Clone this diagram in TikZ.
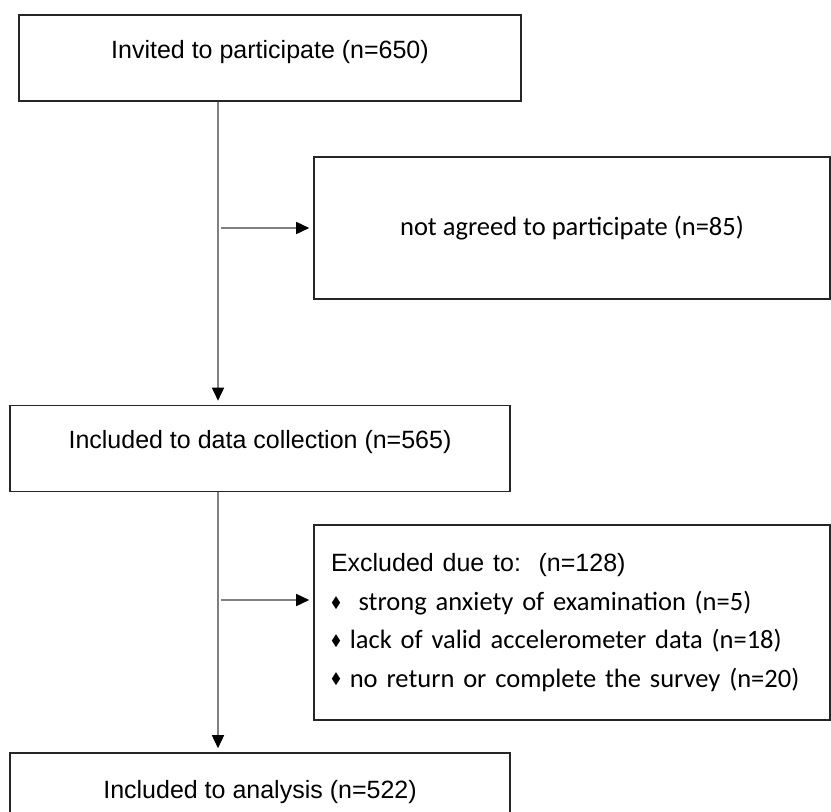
\documentclass[tikz,border=0pt]{standalone}
\usepackage{fontspec}
\setmainfont{Liberation Sans}
\newfontfamily\calibrifont{Carlito}
\usepackage{amssymb}
\usepackage{xcolor}
\colorlet{colBox}{black!85}
\colorlet{colFlow}{black!50}
\usetikzlibrary{arrows.meta, positioning, calc}
\newcommand{\exbullet}{\raisebox{0.12em}{\fontsize{15}{15}\selectfont$\blacklozenge$}}

\begin{document}
\begin{tikzpicture}[
		x=1pt, y=-1pt,
		every node/.style={font=\fontsize{25}{30}\selectfont},
		stagebox/.style={draw=colBox, line width=1.6pt, inner sep=0pt,
		      minimum height=86pt, minimum width=500pt,
		      text height=0.8em, text depth=0.8em},
		sidebox/.style={draw=colBox, line width=1.6pt, inner sep=0pt,
		      minimum width=516pt, font=\calibrifont\fontsize{26.5}{38.5}\selectfont},
		flow/.style={line width=1.6pt, colFlow, shorten >=4pt,
		      -{Triangle[length=13pt, width=12pt, color=black]}}
	]
		\useasboundingbox (0,0) rectangle (831,812);
		\clip (0,0) rectangle (831,812);
		\node[stagebox, minimum width=502pt] (invited) at (270,58)
		     {Invited to participate (n=650)};
		\node[sidebox, minimum height=142pt] (notagreed) at (572,228)
		     {not agreed to participate (n=85)};
		\node[stagebox] (collect) at (260,448.5)
		     {Included to data collection (n=565)};
		\node[sidebox, minimum height=195pt, align=left, text width=482pt,
		      inner xsep=17pt] (excluded) at (572,622.5)
		     {{\rmfamily\fontsize{25}{30}\selectfont Excluded due to:\ \ (n=128)}\\
		      \exbullet\ \ strong anxiety of examination (n=5)\\
		      \exbullet\ lack of valid accelerometer data (n=18)\\
		      \exbullet\ no return or complete the survey (n=20)};
		\node[stagebox, minimum height=90pt] (analysis) at (260,798)
		     {Included to analysis (n=522)};
		% trunk of the flow and the side exits
		\coordinate (trunk) at (218,0);
		\coordinate (exitA) at (221,228);
		\coordinate (exitB) at (221,600);
		\draw[flow] (invited.south -| trunk) -- (collect.north -| trunk);
		\draw[flow] (collect.south -| trunk) -- (analysis.north -| trunk);
		\draw[flow] (exitA) -- (notagreed.west);
		\draw[flow] (exitB) -- (excluded.west |- exitB);
	\end{tikzpicture}
\end{document}
